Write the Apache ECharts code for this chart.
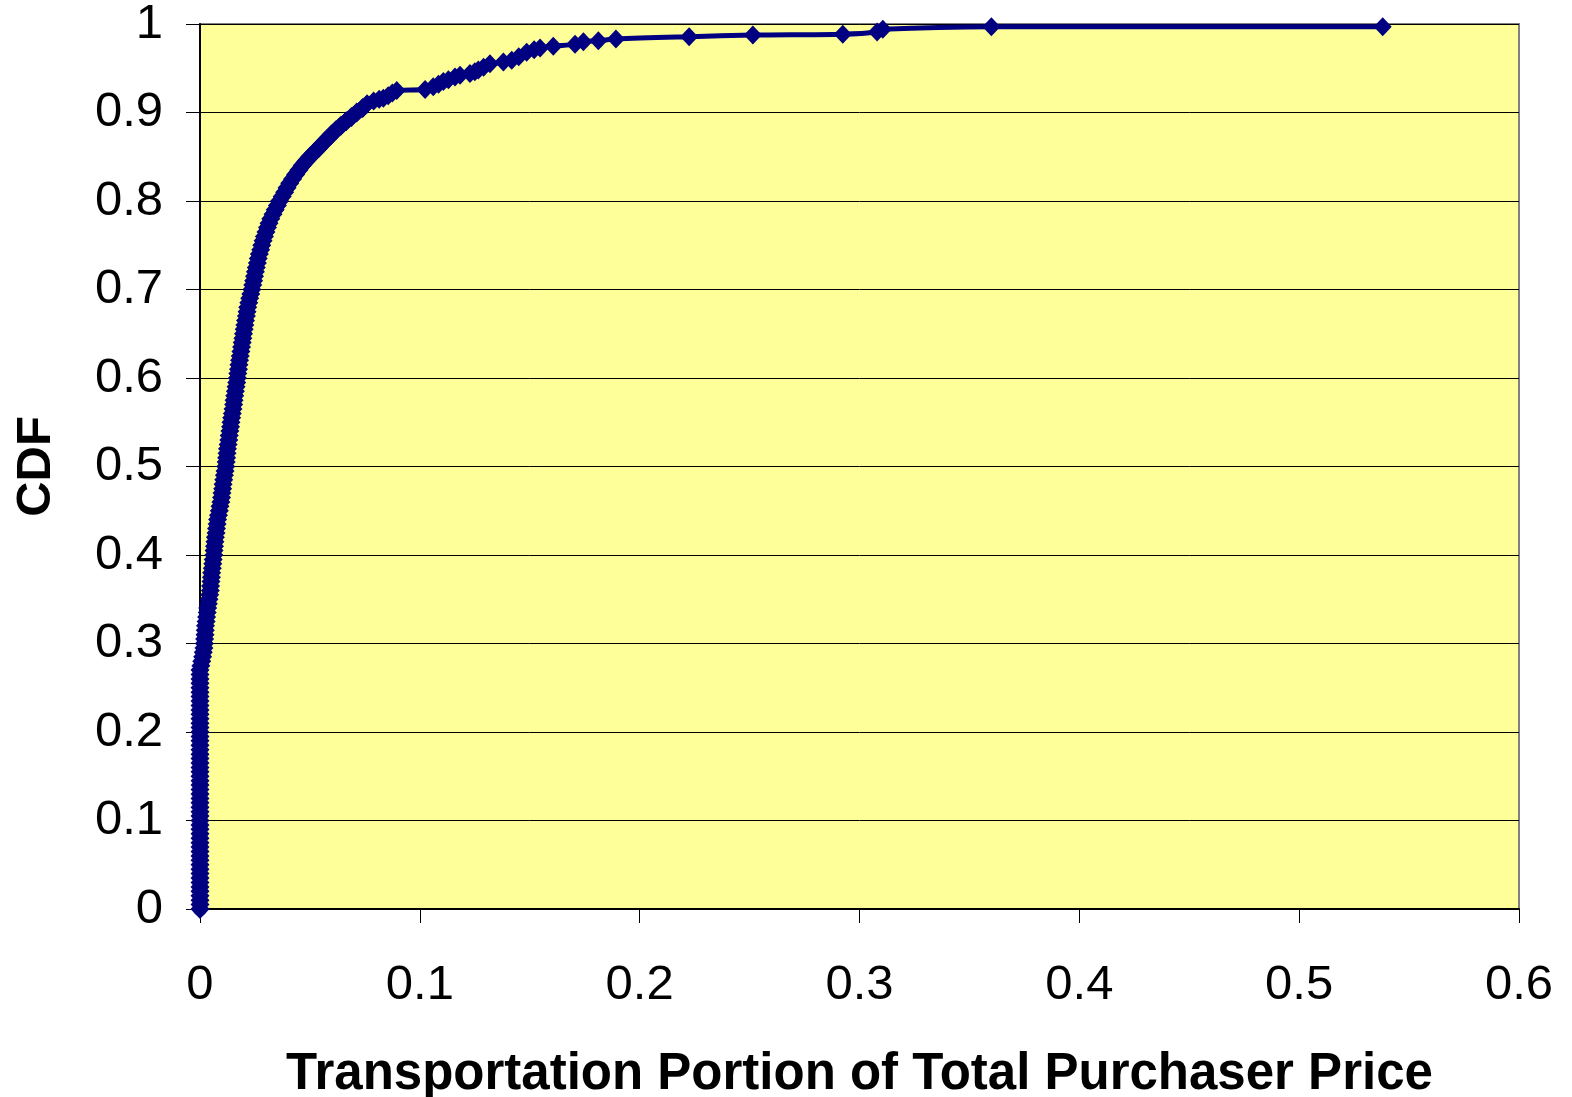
<!DOCTYPE html>
<html lang="en">
<head>
    <meta charset="UTF-8">
    <title>CDF of transportation portion</title>
    <script src="https://cdn.jsdelivr.net/npm/echarts@6/dist/echarts.min.js"></script>
    <style>
        html, body { margin: 0; padding: 0; background: #fff; }
        #main { width: 1572px; height: 1097px; }
    </style>
</head>
<body>
    <div id="main"></div>
    <script>
        // points sitting on x = 0 (zero transportation share)
        var zeroCdf = [0, 0.005, 0.01, 0.015, 0.02, 0.025, 0.03, 0.035, 0.04, 0.045,
            0.05, 0.055, 0.06, 0.065, 0.07, 0.075, 0.08, 0.085, 0.09, 0.095,
            0.1, 0.105, 0.11, 0.115, 0.12, 0.125, 0.13, 0.135, 0.14, 0.145,
            0.15, 0.155, 0.16, 0.165, 0.17, 0.175, 0.18, 0.185, 0.19, 0.195,
            0.2, 0.205, 0.21, 0.215, 0.22, 0.225, 0.23, 0.235, 0.24, 0.245,
            0.25, 0.255, 0.26, 0.265];

        // dense body of the curve
        var bodyShare = [0.0000, 0.0004, 0.0008, 0.0012, 0.0015, 0.0018, 0.0020, 0.0021, 0.0023, 0.0024,
            0.0025, 0.0028, 0.0030, 0.0033, 0.0035, 0.0038, 0.0041, 0.0044, 0.0047, 0.0048,
            0.0050, 0.0052, 0.0053, 0.0056, 0.0058, 0.0060, 0.0063, 0.0064, 0.0066, 0.0068,
            0.0070, 0.0073, 0.0075, 0.0078, 0.0080, 0.0084, 0.0088, 0.0091, 0.0095, 0.0098,
            0.0100, 0.0103, 0.0105, 0.0108, 0.0111, 0.0114, 0.0117, 0.0119, 0.0121, 0.0123,
            0.0125, 0.0128, 0.0131, 0.0133, 0.0136, 0.0139, 0.0141, 0.0144, 0.0147, 0.0150,
            0.0153, 0.0155, 0.0158, 0.0161, 0.0164, 0.0167, 0.0170, 0.0172, 0.0175, 0.0177,
            0.0180, 0.0183, 0.0186, 0.0189, 0.0192, 0.0195, 0.0198, 0.0201, 0.0204, 0.0207,
            0.0211, 0.0214, 0.0217, 0.0222, 0.0226, 0.0231, 0.0236, 0.0240, 0.0244, 0.0248,
            0.0252, 0.0256, 0.0261, 0.0265, 0.0270, 0.0276, 0.0281, 0.0287, 0.0293, 0.0300,
            0.0307, 0.0314, 0.0322, 0.0332, 0.0342, 0.0352, 0.0362, 0.0374, 0.0385, 0.0396,
            0.0408, 0.0421, 0.0435, 0.0450, 0.0465, 0.0482, 0.0500, 0.0520, 0.0540, 0.0559,
            0.0578, 0.0598, 0.0618, 0.0641, 0.0665, 0.0689, 0.0713, 0.0740];
        var bodyCdf = [0.270, 0.275, 0.280, 0.285, 0.290, 0.295, 0.300, 0.305, 0.310, 0.315,
            0.320, 0.325, 0.330, 0.335, 0.340, 0.345, 0.350, 0.355, 0.360, 0.365,
            0.370, 0.375, 0.380, 0.385, 0.390, 0.395, 0.400, 0.405, 0.410, 0.415,
            0.420, 0.425, 0.430, 0.435, 0.440, 0.445, 0.450, 0.455, 0.460, 0.465,
            0.470, 0.475, 0.480, 0.485, 0.490, 0.495, 0.500, 0.505, 0.510, 0.515,
            0.520, 0.525, 0.530, 0.535, 0.540, 0.545, 0.550, 0.555, 0.560, 0.565,
            0.570, 0.575, 0.580, 0.585, 0.590, 0.595, 0.600, 0.605, 0.610, 0.615,
            0.620, 0.625, 0.630, 0.635, 0.640, 0.645, 0.650, 0.655, 0.660, 0.665,
            0.670, 0.675, 0.680, 0.685, 0.690, 0.695, 0.700, 0.705, 0.710, 0.715,
            0.720, 0.725, 0.730, 0.735, 0.740, 0.745, 0.750, 0.755, 0.760, 0.765,
            0.770, 0.775, 0.780, 0.785, 0.790, 0.795, 0.800, 0.805, 0.810, 0.815,
            0.820, 0.825, 0.830, 0.835, 0.840, 0.845, 0.850, 0.855, 0.860, 0.865,
            0.870, 0.875, 0.880, 0.885, 0.890, 0.895, 0.900, 0.905];

        // sparse upper tail
        var tailShare = [0.0760, 0.0790, 0.0815, 0.0834, 0.0856, 0.0875, 0.0895, 0.1024, 0.1061, 0.1085,
            0.1107, 0.1130, 0.1160, 0.1183, 0.1228, 0.1250, 0.1266, 0.1290, 0.1319, 0.1380,
            0.1418, 0.1450, 0.1486, 0.1520, 0.1547, 0.1607, 0.1706, 0.1744, 0.1812, 0.1892,
            0.2225, 0.2515, 0.2924, 0.3080, 0.3106, 0.3600, 0.5380];
        var tailCdf = [0.910, 0.913, 0.915, 0.916, 0.919, 0.922, 0.925, 0.926, 0.929, 0.932,
            0.935, 0.937, 0.940, 0.942, 0.944, 0.946, 0.948, 0.951, 0.955, 0.957,
            0.959, 0.963, 0.968, 0.971, 0.973, 0.975, 0.977, 0.980, 0.981, 0.983,
            0.9857, 0.9875, 0.9885, 0.991, 0.994, 0.997, 0.997];

        var xTicks = ['0', '0.1', '0.2', '0.3', '0.4', '0.5', '0.6'];
        var yTicks = ['0', '0.1', '0.2', '0.3', '0.4', '0.5', '0.6', '0.7', '0.8', '0.9', '1'];

        var densePoints = zeroCdf.map(function (p) { return [0, p]; })
            .concat(bodyShare.map(function (v, i) { return [v, bodyCdf[i]]; }));
        // tail starts from the last dense point so the line stays connected
        var tailPoints = [densePoints[densePoints.length - 1]]
            .concat(tailShare.map(function (v, i) { return [v, tailCdf[i]]; }));

        var myChart = echarts.init(document.getElementById('main'));
        var font = 'Liberation Sans, Arial, sans-serif';
        var navy = '#000080';

        myChart.setOption({
            animation: false,
            backgroundColor: '#ffffff',
            grid: {
                left: 200, right: 53, top: 24, bottom: 188,
                outerBoundsMode: 'none',
                containLabel: false,
                show: true,
                backgroundColor: '#FFFF99',
                borderColor: '#808080',
                borderWidth: 2
            },
            xAxis: {
                type: 'value',
                min: 0, max: 0.6, interval: 0.1,
                name: 'Transportation Portion of Total Purchaser Price',
                nameLocation: 'middle',
                nameGap: 140,
                nameTextStyle: { fontFamily: font, fontSize: 51, fontWeight: 'bold', color: '#000' },
                axisLine: { lineStyle: { color: '#000', width: 2 } },
                axisTick: { show: true, inside: false, length: 14, lineStyle: { color: '#000', width: 1 } },
                axisLabel: {
                    fontFamily: font, fontSize: 49, color: '#000', margin: 52,
                    formatter: function (v) { return xTicks[Math.round(v * 10)]; }
                },
                splitLine: { show: false }
            },
            yAxis: {
                type: 'value',
                min: 0, max: 1, interval: 0.1,
                name: 'CDF',
                nameLocation: 'middle',
                nameRotate: 90,
                nameGap: 139,
                nameTextStyle: { fontFamily: font, fontSize: 49, fontWeight: 'bold', color: '#000' },
                axisLine: { show: true, lineStyle: { color: '#000', width: 2 } },
                axisTick: { show: true, inside: false, length: 14, lineStyle: { color: '#000', width: 1 } },
                axisLabel: {
                    fontFamily: font, fontSize: 49, color: '#000', margin: 37,
                    formatter: function (v) { return yTicks[Math.round(v * 10)]; }
                },
                splitLine: { show: true, lineStyle: { color: '#000', width: 1 } }
            },
            series: [{
                type: 'line',
                data: densePoints,
                smooth: 0.3,
                showAllSymbol: true,
                symbol: 'diamond',
                symbolSize: [19, 20],
                itemStyle: { color: navy, borderWidth: 0 },
                lineStyle: { color: navy, width: 14, join: 'round', cap: 'round' },
                clip: false
            }, {
                type: 'line',
                data: tailPoints,
                smooth: 0.3,
                showAllSymbol: true,
                symbol: 'diamond',
                symbolSize: [18, 19],
                itemStyle: { color: navy, borderWidth: 0 },
                lineStyle: { color: navy, width: 5 },
                clip: false
            }]
        });
    </script>
</body>
</html>
